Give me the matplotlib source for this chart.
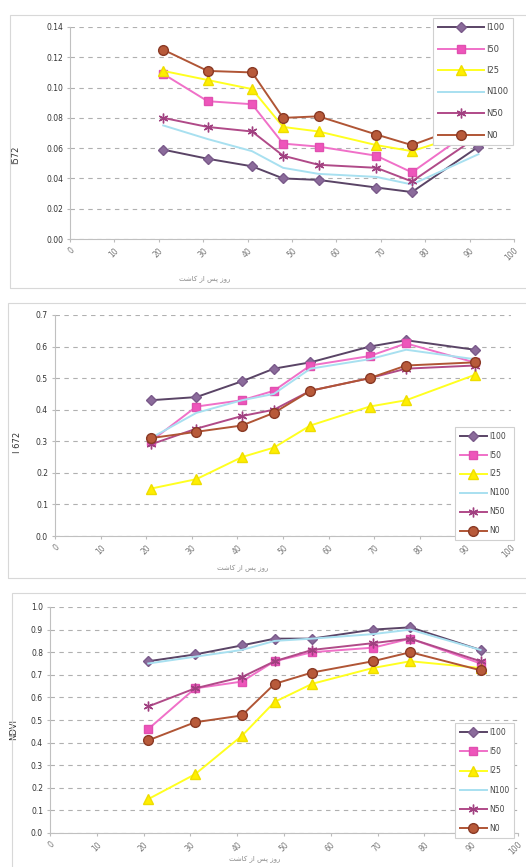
import numpy as np
import matplotlib.pyplot as plt
from matplotlib.patches import Rectangle

days = [21, 31, 41, 48, 56, 69, 77, 92]
names = ['I100', 'I50', 'I25', 'N100', 'N50', 'N0']

# panel 1 (I572)
p1_i100 = [0.059, 0.053, 0.048, 0.040, 0.039, 0.034, 0.031, 0.061]
p1_i50 = [0.109, 0.091, 0.089, 0.063, 0.061, 0.055, 0.044, 0.075]
p1_i25 = [0.111, 0.105, 0.099, 0.074, 0.071, 0.062, 0.058, 0.072]
p1_n100 = [0.075, 0.066, 0.058, 0.047, 0.043, 0.041, 0.036, 0.056]
p1_n50 = [0.080, 0.074, 0.071, 0.055, 0.049, 0.047, 0.038, 0.068]
p1_n0 = [0.125, 0.111, 0.110, 0.080, 0.081, 0.069, 0.062, 0.078]

# panel 2 (I672)
p2_i100 = [0.43, 0.44, 0.49, 0.53, 0.55, 0.60, 0.62, 0.59]
p2_i50 = [0.30, 0.41, 0.43, 0.46, 0.54, 0.57, 0.61, 0.55]
p2_i25 = [0.15, 0.18, 0.25, 0.28, 0.35, 0.41, 0.43, 0.51]
p2_n100 = [0.31, 0.39, 0.43, 0.45, 0.53, 0.56, 0.59, 0.56]
p2_n50 = [0.29, 0.34, 0.38, 0.40, 0.46, 0.50, 0.53, 0.54]
p2_n0 = [0.31, 0.33, 0.35, 0.39, 0.46, 0.50, 0.54, 0.55]

# panel 3 (NDVI)
p3_i100 = [0.76, 0.79, 0.83, 0.86, 0.86, 0.90, 0.91, 0.81]
p3_i50 = [0.46, 0.64, 0.67, 0.76, 0.80, 0.82, 0.86, 0.75]
p3_i25 = [0.15, 0.26, 0.43, 0.58, 0.66, 0.73, 0.76, 0.73]
p3_n100 = [0.75, 0.78, 0.81, 0.85, 0.86, 0.88, 0.90, 0.81]
p3_n50 = [0.56, 0.64, 0.69, 0.76, 0.81, 0.84, 0.86, 0.76]
p3_n0 = [0.41, 0.49, 0.52, 0.66, 0.71, 0.76, 0.80, 0.72]

x_ticks = list(range(0, 101, 10))
# "روز پس از کاشت" written in presentation forms, visual order
x_label = '\uFE96\uFEB7\uFE8E\uFB90 \uFEAF\uFE8D \uFEB2\uFB58 \uFEAF\uFEED\uFEAD'

styles = {
    'I100': dict(color='#5a4466', marker='D', mfc='#8b6b9b', mec='#7a5a8a', ms=5.5),
    'I50': dict(color='#f070c8', marker='s', mfc='#ee55bb', mec='#e050b0', ms=6),
    'I25': dict(color='#ffff20', marker='^', mfc='#ffee00', mec='#eedd00', ms=6.5),
    'N100': dict(color='#a8e0f0', marker=None),
    'N50': dict(color='#b04a88', marker=(6, 2, 0), mfc='#b04a88', mec='#a04080', ms=7, mew=1.0),
    'N0': dict(color='#b05535', marker='o', mfc='#b85a3a', mec='#8a3a25', ms=7),
}

fig = plt.figure(figsize=(5.26, 8.67), dpi=100)
W, H = 526.0, 867.0

panels = [
    dict(data=[p1_i100, p1_i50, p1_i25, p1_n100, p1_n50, p1_n0], ylim=0.14, step=0.02,
         fmt='{:.2f}', ylabel='I572', rect=(70, 27, 514, 239), frame=(10, 15, 530, 288),
         leg=(433, 18), legsp=1.5, hl=5.5, lfs=6, ylab=(20, 155), xlab=(205, 279)),
    dict(data=[p2_i100, p2_i50, p2_i25, p2_n100, p2_n50, p2_n0], ylim=0.7, step=0.1,
         fmt='{:.1f}', ylabel='I 672', rect=(55, 315, 511, 536), frame=(8, 303, 530, 578),
         leg=(455, 427), legsp=1.3, hl=3.6, lfs=5.5, ylab=(22, 442), xlab=(243, 568)),
    dict(data=[p3_i100, p3_i50, p3_i25, p3_n100, p3_n50, p3_n0], ylim=1.0, step=0.1,
         fmt='{:.1f}', ylabel='NDVI', rect=(50, 607, 518, 833), frame=(12, 593, 530, 870),
         leg=(455, 723), legsp=1.35, hl=3.6, lfs=5.5, ylab=(18, 730), xlab=(255, 859)),
]

for p in panels:
    fx0, fy0, fx1, fy1 = p['frame']
    fig.patches.append(Rectangle((fx0 / W, 1 - fy1 / H), (fx1 - fx0) / W, (fy1 - fy0) / H,
                                 transform=fig.transFigure, fill=False, ec='#d8d8d8', lw=0.8))
    x0, y0, x1, y1 = p['rect']
    ax = fig.add_axes([x0 / W, 1 - y1 / H, (x1 - x0) / W, (y1 - y0) / H])
    for name, vals in zip(names, p['data']):
        ax.plot(days, vals, label=name, lw=1.4, **styles[name])
    ax.set_xlim(0, 100)
    ax.set_ylim(0, p['ylim'])
    yt = np.arange(0, p['ylim'] + p['step'] / 2, p['step'])
    ax.set_yticks(yt)
    ax.set_yticklabels([p['fmt'].format(v) for v in yt], fontsize=5.5, color='#333333')
    ax.set_xticks(x_ticks)
    ax.set_xticklabels([str(v) for v in x_ticks], rotation=45, ha='right', fontsize=5.5,
                       color='#777777', rotation_mode='anchor')
    ax.tick_params(length=2, color='#bbbbbb', pad=3)
    ax.grid(axis='y', color='#b0b0b0', linestyle=(0, (4, 4)), lw=0.8)
    ax.set_axisbelow(True)
    for s in ['top', 'right']:
        ax.spines[s].set_visible(False)
    for s in ['left', 'bottom']:
        ax.spines[s].set_color('#c0c0c0')
        ax.spines[s].set_linewidth(0.8)
    ax.set_ylabel(p['ylabel'], fontsize=6, color='#333333')
    lx, ly = p['ylab']
    ax.yaxis.set_label_coords((lx - x0) / (x1 - x0), (y1 - ly) / (y1 - y0))
    tx, ty = p['xlab']
    fig.text(tx / W, 1 - ty / H, x_label, fontsize=5, color='#888888', ha='center',
             va='center', family=['DejaVu Sans'])
    gx, gy = p['leg']
    leg = ax.legend(loc='upper left', bbox_to_anchor=(gx / W, 1 - gy / H),
                    bbox_transform=fig.transFigure, fontsize=p['lfs'], frameon=True,
                    fancybox=False, handlelength=p['hl'], labelspacing=p['legsp'],
                    borderpad=0.6, handletextpad=0.3, borderaxespad=0)
    leg.get_frame().set_edgecolor('#d0d0d0')
    leg.get_frame().set_linewidth(0.8)
    leg.get_frame().set_alpha(1.0)
    for t in leg.get_texts():
        t.set_color('#444444')

fig.savefig('out.png', dpi=100, facecolor='white')
